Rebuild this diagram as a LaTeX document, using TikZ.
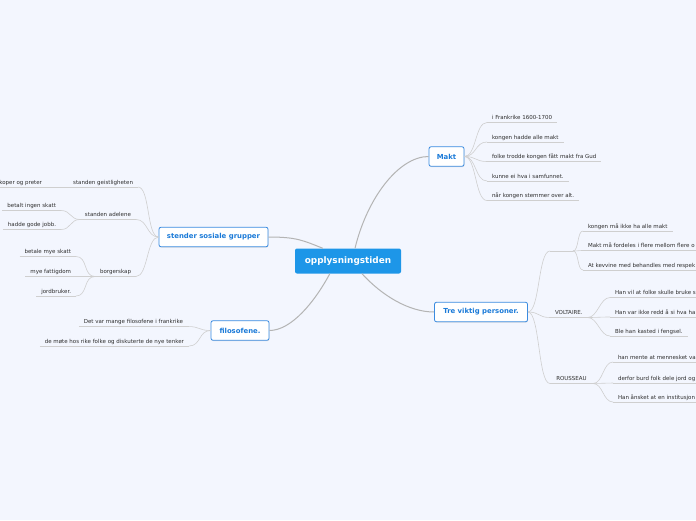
\documentclass[tikz,border=0pt]{standalone}
\usepackage{fontspec}
\setmainfont{DejaVu Sans}
\usetikzlibrary{shadows,calc}
\definecolor{bgc}{HTML}{F3F6FE}
\definecolor{mainfill}{HTML}{1D96E8}
\definecolor{boxline}{HTML}{3A8BE0}
\definecolor{boxtext}{HTML}{1A7AD8}
\definecolor{leaftext}{HTML}{2E2E2E}
\definecolor{mainline}{HTML}{B4B4B4}
\definecolor{branchline}{HTML}{CFCFCF}
\begin{document}
\begin{tikzpicture}[x=1pt,y=-1pt,
  leaf/.style={inner xsep=5pt, inner ysep=2pt, text height=3.9pt, text depth=1pt,
    font=\fontsize{5.5}{6.5}\selectfont, text=leaftext, outer sep=0pt},
  rleaf/.style={leaf, anchor=south west},
  lleaf/.style={leaf, anchor=south east},
  uline/.style={draw=branchline, line width=0.6pt},
  branch/.style={draw=branchline, line width=0.6pt},
  mainconn/.style={draw=mainline, line width=1pt},
  topic/.style={draw=boxline, line width=0.8pt, fill=white, rounded corners=2pt,
    text=boxtext, font=\bfseries\fontsize{6.9}{8}\selectfont, inner sep=0pt,
    minimum height=19.5pt, drop shadow={opacity=0.25, shadow xshift=0.4pt, shadow yshift=-0.8pt}},
  central/.style={fill=mainfill, rounded corners=2pt, text=white,
    font=\bfseries\fontsize{8.9}{10}\selectfont, inner sep=0pt,
    minimum width=106pt, minimum height=25pt}
]
\useasboundingbox (0,0) rectangle (696,520);
\clip (0,0) rectangle (696,520);
\fill[bgc] (0,0) rectangle (696,520);

% topics
\node[central] (c) at (348,261) {opplysningstiden};
\node[topic, minimum width=35pt] (makt) at (446.5,156.5) {Makt};
\node[topic, minimum width=93pt] (tre) at (481,312) {Tre viktig personer.};
\node[topic, minimum width=109pt] (stender) at (213.5,237) {stender sosiale grupper};
\node[topic, minimum width=58pt] (filo) at (240,330.5) {filosofene.};

% main connectors
\draw[mainconn] ($(c.north)+(7,0)$) .. controls +(12,-50) and +(-30,0) .. (makt.west);
\draw[mainconn] ($(c.south)+(14,0)$) .. controls +(20,22) and +(-25,0) .. (tre.west);
\draw[mainconn] (stender.east) .. controls +(28,0) and +(-20,-8) .. ($(c.north west)+(28,0)$);
\draw[mainconn] ($(c.south west)+(35,0)$) .. controls +(-15,28) and +(22,0) .. (filo.east);

% Makt leaves
\node[rleaf] (m1) at (487,122.5) {i Frankrike 1600-1700};
\node[rleaf] (m2) at (487,142) {kongen hadde alle makt};
\node[rleaf] (m3) at (487,161.5) {folke trodde kongen fått makt fra Gud};
\node[rleaf] (m4) at (487,181) {kunne ei hva i samfunnet.};
\node[rleaf] (m5) at (487,200.5) {når kongen stemmer over alt.};
\foreach \n in {m1,m2,m3,m4,m5}
  \draw[branch] (makt.east) .. controls +(12,0) and +(-12,0) .. (\n.south west);

% Tre viktig personer children
\node[rleaf, minimum width=23pt] (b1) at (550,251) {};
\node[rleaf] (volt) at (550,317.5) {VOLTAIRE.};
\node[rleaf, minimum width=43pt] (rous) at (550,383.5) {ROUSSEAU};
\foreach \n in {b1,volt,rous}
  \draw[branch] (tre.east) .. controls +(12,0) and +(-12,0) .. (\n.south west);

\node[rleaf] (k1) at (583,231) {kongen må ikke ha alle makt};
\node[rleaf] (k2) at (583,250.5) {Makt må fordeles i flere mellom flere o};
\node[rleaf] (k3) at (583,270) {At kevvine med behandles med respek};
\foreach \n in {k1,k2,k3}
  \draw[branch] (b1.south east) .. controls +(6,0) and +(-6,0) .. (\n.south west);

\node[rleaf] (v1) at (610,297.5) {Han vil at folke skulle bruke s};
\node[rleaf] (v2) at (610,317) {Han var ikke redd å si hva ha};
\node[rleaf] (v3) at (610,336) {Ble han kasted i fengsel.};
\foreach \n in {v1,v2,v3}
  \draw[branch] (volt.south east) .. controls +(10,0) and +(-10,0) .. (\n.south west);

\node[rleaf] (r1) at (613,362) {han mente at mennesket va};
\node[rleaf] (r2) at (613,383) {derfor burd folk dele jord og};
\node[rleaf] (r3) at (613,402) {Han ånsket at en institusjon};
\foreach \n in {r1,r2,r3}
  \draw[branch] (rous.south east) .. controls +(10,0) and +(-10,0) .. (\n.south west);

% stender children
\node[lleaf] (geist) at (138,187) {standen geistligheten};
\node[lleaf] (adel) at (136,219.5) {standen adelene};
\node[lleaf] (borg) at (136,276.5) {borgerskap};
\foreach \n in {geist,adel,borg}
  \draw[branch] (stender.west) .. controls +(-12,0) and +(12,0) .. (\n.south east);

\node[lleaf] (g1) at (47,187) {koper og preter};
\draw[branch] (geist.south west) -- (g1.south east);

\node[lleaf] (a1) at (61,210.5) {betalt ingen skatt};
\node[lleaf] (a2) at (61,229.5) {hadde gode jobb.};
\foreach \n in {a1,a2}
  \draw[branch] (adel.south west) .. controls +(-10,0) and +(10,0) .. (\n.south east);

\node[lleaf] (p1) at (76,256.5) {betale mye skatt};
\node[lleaf] (p2) at (76,276.5) {mye fattigdom};
\node[lleaf] (p3) at (76,296) {jordbruker.};
\foreach \n in {p1,p2,p3}
  \draw[branch] (borg.south west) .. controls +(-12,0) and +(12,0) .. (\n.south east);

% filosofene children
\node[lleaf] (f1) at (188,326.5) {Det var mange filosofene i frankrike};
\node[lleaf] (f2) at (189,346) {de møte hos rike folke og diskuterte de nye tenker};
\foreach \n in {f1,f2}
  \draw[branch] (filo.west) .. controls +(-12,0) and +(12,0) .. (\n.south east);

% underlines
\foreach \n in {m1,m2,m3,m4,m5,b1,volt,rous,k1,k2,k3,v1,v2,v3,r1,r2,r3,geist,adel,borg,g1,a1,a2,p1,p2,p3,f1,f2}
  \draw[uline] (\n.south west) -- (\n.south east);
\end{tikzpicture}
\end{document}
